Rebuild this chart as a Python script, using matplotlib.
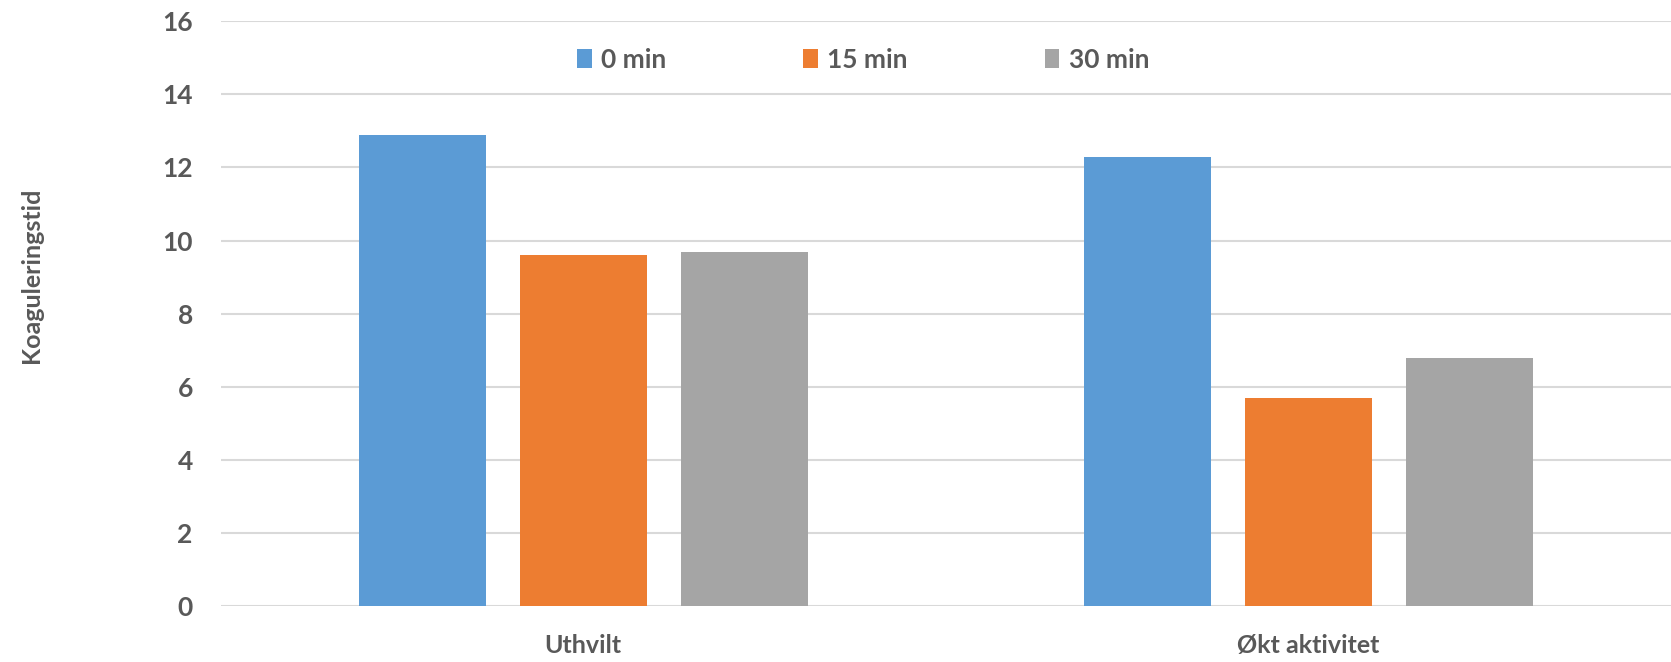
import matplotlib
matplotlib.use("Agg")
import matplotlib.pyplot as plt
import numpy as np

# ================== data ==================
categories = ["Uthvilt", "Økt aktivitet"]
series_names = ["0 min", "15 min", "30 min"]
vals_0 = [12.9, 12.3]
vals_15 = [9.6, 5.7]
vals_30 = [9.7, 6.8]
y_ticks = [0, 2, 4, 6, 8, 10, 12, 14, 16]

colors = ["#5b9bd5", "#ed7d31", "#a5a5a5"]
text_col = "#595959"

plt.rcParams['font.family'] = ['Lato', 'DejaVu Sans']

fig = plt.figure(figsize=(16.71, 6.62), dpi=100)
ax = fig.add_axes([0.132, 0.084, 0.868, 0.884])

x = np.arange(len(categories))
w = 0.175
step = 0.222
for i, (name, vals) in enumerate(zip(series_names, [vals_0, vals_15, vals_30])):
    ax.bar(x + (i - 1) * step, vals, width=w, color=colors[i], label=name, zorder=3)

ax.set_xlim(-0.5, len(categories) - 0.5)
ax.set_ylim(0, 16)
ax.set_yticks(y_ticks)
ax.set_yticklabels([str(t) for t in y_ticks], fontsize=19, fontweight="bold", color=text_col)
ax.set_xticks(x)
ax.set_xticklabels(categories, fontsize=18, fontweight="bold", color=text_col)
ax.tick_params(axis="y", length=0, pad=20)
ax.tick_params(axis="x", length=0, pad=20)
ax.grid(axis="y", color="#d9d9d9", linewidth=1.5, zorder=0)
for s in ax.spines.values():
    s.set_visible(False)

fig.text(32 / 1671, 1 - 275 / 662, "Koaguleringstid", rotation=90, ha="center", va="center",
         fontsize=18, fontweight="bold", color=text_col)

leg = ax.legend(loc="center", bbox_to_anchor=(0.443, 0.934), ncol=3, frameon=False,
                handlelength=0.55, handleheight=0.7, handletextpad=0.35,
                columnspacing=5.2, prop={"weight": "bold", "size": 19})
for t in leg.get_texts():
    t.set_color(text_col)

fig.savefig("out.png", dpi=100)
